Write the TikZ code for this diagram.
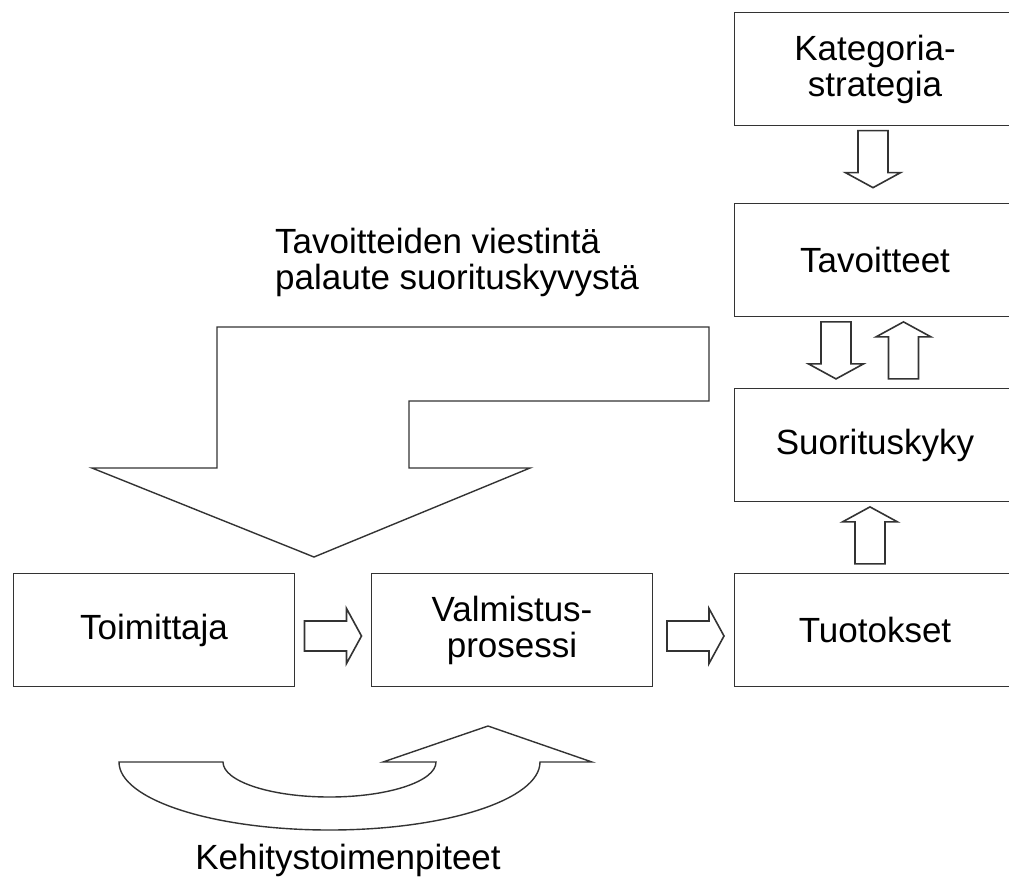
\documentclass[tikz,border=0pt]{standalone}
\usepackage{fontspec}
\setmainfont{Liberation Sans}
\usetikzlibrary{calc}
\newcommand\diagfont{\fontsize{35}{36}\selectfont}
\tikzset{
  outline/.style={draw=black!80, line width=1.6pt, line join=miter},
  box/.style={outline, rectangle, minimum width=281pt, minimum height=113pt,
              inner sep=0pt, align=center, font=\diagfont},
  caption/.style={font=\diagfont, inner sep=0pt},
  % hollow block arrow, pointing right before rotation
  pics/hollowarrow/.style={code={
    \draw[outline, fill=white] (-28.5,-15) -- (13.5,-15) -- (13.5,-27.5)
      -- (28.5,0) -- (13.5,27.5) -- (13.5,15) -- (-28.5,15) -- cycle;}}
}
\begin{document}
\begin{tikzpicture}[x=1pt,y=1pt]
\useasboundingbox (0,0) rectangle (1009,-876);
\clip (0,0) rectangle (1009,-876);

% process chain
\node[box] (toim) at (154,-630) {Toimittaja};
\node[box] (valm) at (512,-630) {Valmistus-\\prosessi};
\node[box] (tuot) at (875,-630) {Tuotokset};

% performance column
\node[box] (suor) at (875,-445) {Suorituskyky};
\node[box] (tavo) at (875,-260) {Tavoitteet};
\node[box] (kate) at (875,-69) {Kategoria-\\strategia};

% block arrows between the boxes
\pic at ($(toim.east)!0.5!(valm.west)+(0,-6)$) {hollowarrow};
\pic at ($(valm.east)!0.5!(tuot.west)+(2,-6)$) {hollowarrow};
\pic[rotate=-90] at ($(kate.south)!0.43!(tavo.north)+(-2,0)$) {hollowarrow};
\pic[rotate=-90] at ($(tavo.south)!0.47!(suor.north)+(-39,0)$) {hollowarrow};
\pic[rotate=90] at ($(tavo.south)!0.47!(suor.north)+(28.5,0)$) {hollowarrow};
\pic[rotate=90] at ($(suor.south)!0.47!(tuot.north)+(-5,0)$) {hollowarrow};

% bent feedback arrow
\draw[outline, line width=1.4pt] (217,-327) -- (709,-327) -- (709,-401)
  -- (409,-401) -- (409,-468) -- (530,-468) -- (314,-557) -- (92,-468)
  -- (217,-468) -- cycle;
\node[caption, align=left, anchor=north west] (goal) at (275,-228)
  {Tavoitteiden viestintä\\palaute suorituskyvystä};

% curved improvement arrow
\draw[outline, line width=1.4pt] (119,-762) -- (223,-762)
  arc[start angle=180, end angle=360, x radius=106.5, y radius=35]
  -- (383,-762) -- (488,-726) -- (592,-762) -- (540,-762)
  arc[start angle=0, end angle=-180, x radius=210.5, y radius=68] -- cycle;
\node[caption, anchor=base] (dev) at (348,-869) {Kehitystoimenpiteet};
\end{tikzpicture}
\end{document}
